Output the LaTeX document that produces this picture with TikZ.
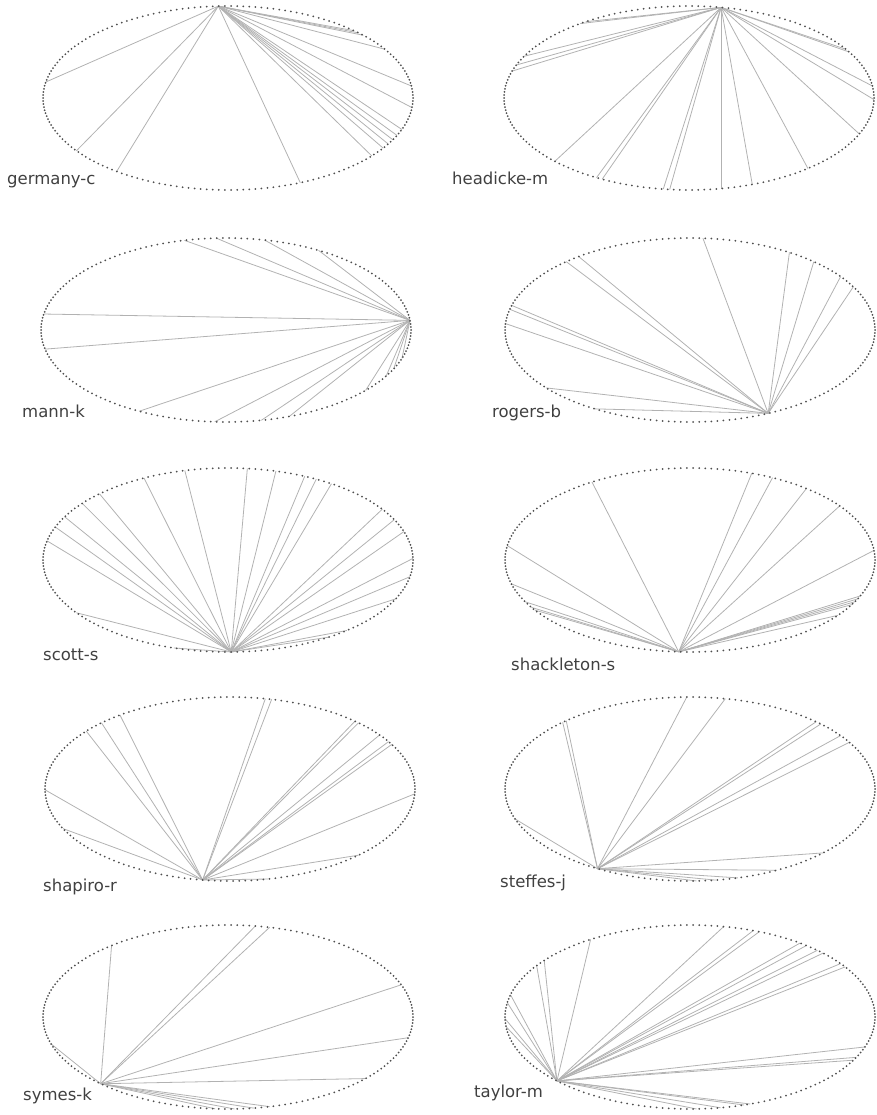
\documentclass[tikz,border=0pt]{standalone}
\usepackage{fontspec}
\setmainfont{DejaVu Sans}
\definecolor{dotgray}{HTML}{505050}
\definecolor{linegray}{HTML}{B2B2B2}
\definecolor{textgray}{HTML}{404040}
\tikzset{
  chord/.style={draw=linegray, line width=0.8pt},
  vertex/.style={fill=dotgray},
  panellabel/.style={anchor=base west, text=textgray, inner sep=0pt, font=\fontsize{16.5}{18}\selectfont},
}
\newcommand{\arcgraph}[8]{%
  \coordinate (#1-hub) at ({#2+185*cos(#4)},{#3-92*sin(#4)});
  \foreach \t in {#5} {
    \coordinate (#1-end) at ({#2+185*cos(\t)},{#3-92*sin(\t)});
    \draw[chord] (#1-hub) -- (#1-end);
  }
  \foreach \k [evaluate=\k as \ang using \k*1.894737] in {0,...,189}
    \fill[vertex] ({#2+185*cos(\ang)},{#3-92*sin(\ang)}) circle (1);
  \node[panellabel] (#1-label) at (#6,#7) {#8};
}
\begin{document}
\begin{tikzpicture}[x=1pt, y=-1pt]
\useasboundingbox (0,0) rectangle (877,1115);
\arcgraph{germany}{228}{98}{93}{170,215,233,293,47,45,43,32,7.5,354,340,336,333,330,327,321}{7}{185}{germany-c}
\arcgraph{headicke}{689}{98}{80}{124,126,153,159,163,223.5,240,242,262,264,280,290,310,337,359,7.5,30,32}{452}{185}{headicke-m}
\arcgraph{mann}{226}{330}{6}{103,93,78,60,170,192,242,266.5,281,290,319,330,335,342}{22}{417}{mann-k}
\arcgraph{rogers}{690}{330}{295}{86,57.5,48,35.5,28,127,132,164.5,167,176,219,239}{492}{417}{rogers-b}
\arcgraph{scott}{228}{560}{271}{168,159,152,142,134,117,103.5,84,75,65.5,61.5,56,33.5,26,18,1,349.5,335,310,303,215,253}{43}{660}{scott-s}
\arcgraph{shackleton}{690}{560}{266.5}{122,171,195,207,211,213,70.5,63.5,51,36,6,337,335,333,331,323}{511}{670}{shackleton-s}
\arcgraph{shapiro}{230}{789}{261.5}{180.5,205.5,141,134,126.5,79,77,47.5,46,36,31,29,357,314,282}{43}{891}{shapiro-r}
\arcgraph{steffes}{690}{789}{240}{133.5,132,199,91,79,47,45,35.5,30.5,316,298,285,278,272}{500}{887}{steffes-j}
\arcgraph{symes}{228}{1017}{226.5}{129,197,81.5,77,20.5,347,318,283,278,272,266}{23}{1100}{symes-k}
\arcgraph{taylor}{690}{1017}{224}{122.5,142,146,166,171,181,186,79.5,70,68,53.5,51,46.5,44,35.5,33,341,334,332,289,287,279.5,272}{474}{1097}{taylor-m}
\end{tikzpicture}
\end{document}
